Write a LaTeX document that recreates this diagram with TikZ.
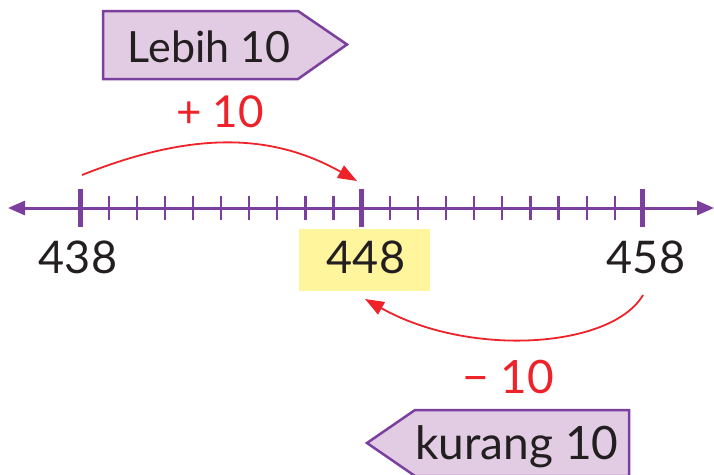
\documentclass[tikz,border=0pt]{standalone}
\usepackage{fontspec}
\setmainfont{Lato}
\usetikzlibrary{arrows.meta}
\definecolor{nlpurple}{HTML}{7B3F9E}
\definecolor{boxfill}{HTML}{E1CCE4}
\definecolor{hlyellow}{HTML}{FFF59D}
\definecolor{arcred}{HTML}{EE2229}
\definecolor{inkblack}{HTML}{231F20}
\tikzset{
  numlabel/.style={text=inkblack, font=\fontsize{45}{50}\selectfont, inner sep=0pt, anchor=base},
  redlabel/.style={text=arcred, font=\fontsize{44}{48}\selectfont, inner sep=0pt, anchor=base},
  tagtext/.style={text=inkblack, inner sep=0pt, anchor=base},
  tagbox/.style={draw=nlpurple, fill=boxfill, line width=2.5pt, line join=miter},
  jump/.style={draw=arcred, line width=1.8pt, -{Triangle[length=19pt,width=14pt]}},
  axis/.style={draw=nlpurple, line width=3pt, {Triangle[length=17pt,width=14pt]}-{Triangle[length=17pt,width=14pt]}},
  minortick/.style={draw=nlpurple, line width=2.2pt},
  majortick/.style={draw=nlpurple, line width=5pt},
}
\begin{document}
\begin{tikzpicture}[x=1pt,y=-1pt]
\useasboundingbox (0,0) rectangle (714,474);
\clip (0,0) rectangle (714,474);
% tag boxes
\draw[tagbox] (103,11) -- (298,11) -- (347,44.5) -- (298,79) -- (103,79) -- cycle;
\node[tagtext, font=\fontsize{43}{48}\selectfont] (lebih) at (209,62) {Lebih 10};
\draw[tagbox] (629,410) -- (415,410) -- (367,443) -- (415,476) -- (629,476) -- cycle;
\node[tagtext, font=\fontsize{46}{52}\selectfont] (kurang) at (517,459) {kurang 10};
% highlight
\fill[hlyellow] (299,229) rectangle (430,291);
% number line
\coordinate (L) at (8,208);
\coordinate (R) at (714,208);
\draw[axis] (L) -- (R);
\foreach \k in {1,2,3,4,5,6,7,8,9} {
  \draw[minortick] ({80.5+28.12*\k},196) -- ({80.5+28.12*\k},220);
}
\foreach \k in {11,12,13,14,15,16,17,18,19} {
  \draw[minortick] ({80.5+28.12*\k},196) -- ({80.5+28.12*\k},220);
}
\coordinate (t438) at (80.5,208);
\coordinate (t448) at (361.7,208);
\coordinate (t458) at (642.9,208);
\foreach \t in {t438,t448,t458} {
  \draw[majortick] ([yshift=-19pt]\t) -- ([yshift=19pt]\t);
}
\node[numlabel] (n438) at (78,273) {438};
\node[numlabel] (n448) at (366,273) {448};
\node[numlabel] (n458) at (646,273) {458};
% jumps
\coordinate (a1) at (82,175);
\coordinate (a2) at (357,181);
\draw[jump] (a1) .. controls (190,132) and (270,132) .. (a2);
\coordinate (b1) at (643,295);
\coordinate (b2) at (365,299);
\draw[jump] (b1) .. controls (612,348) and (470,358) .. (b2);
\node[redlabel] (plus) at (220,127) {+ 10};
\node[redlabel, font=\fontsize{46}{50}\selectfont] (minus) at (508,393) {− 10};
\end{tikzpicture}
\end{document}
